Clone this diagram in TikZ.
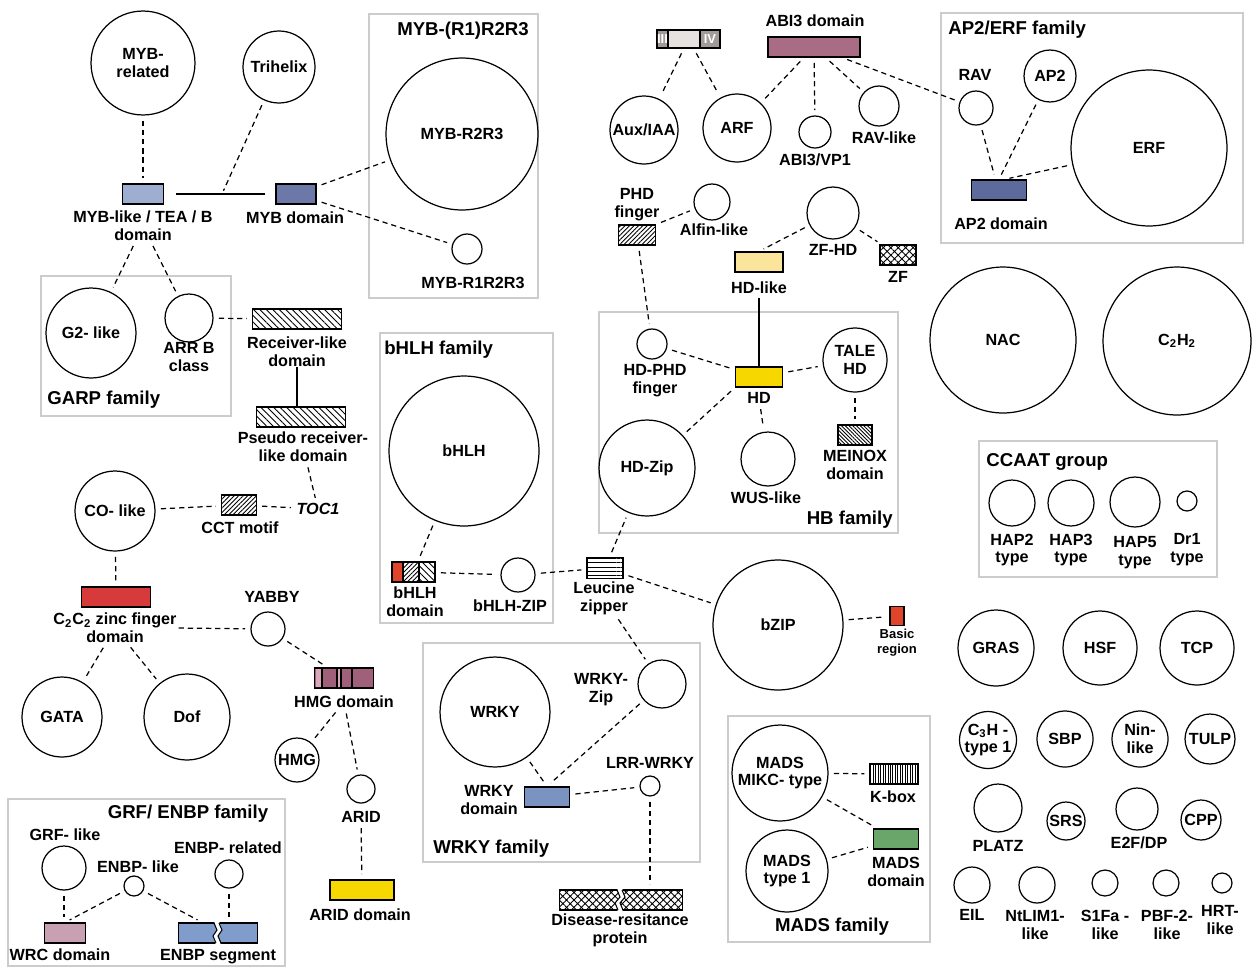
\documentclass[tikz,border=0pt]{standalone}
\usepackage{fontspec}
\setmainfont{Liberation Sans}
\usetikzlibrary{patterns.meta}
\newcommand\lblfont{\fontsize{9.2}{10.2}\selectfont\bfseries}
\newcommand\ttlfont{\fontsize{10.6}{12}\selectfont\bfseries}
\newcommand\smlfont{\fontsize{7.4}{8.4}\selectfont\bfseries}
\definecolor{framegray}{HTML}{CCCCCC}
\definecolor{mybl}{HTML}{9DAED0}
\definecolor{mybd}{HTML}{6B78A8}
\definecolor{ap2c}{HTML}{5D6A9C}
\definecolor{abic}{HTML}{A86C84}
\definecolor{hdlc}{HTML}{FBE49C}
\definecolor{hdc}{HTML}{F7D700}
\definecolor{zincred}{HTML}{D63A3A}
\definecolor{basicc}{HTML}{E0452C}
\definecolor{hmgc}{HTML}{A0607A}
\definecolor{hmgl}{HTML}{D9A8BA}
\definecolor{wrcc}{HTML}{C9A0B2}
\definecolor{enbpc}{HTML}{7F9CCB}
\definecolor{wrkyc}{HTML}{7B93C0}
\definecolor{madsc}{HTML}{6AA56A}
\definecolor{auxmid}{HTML}{E6E2E0}
\definecolor{auxend}{HTML}{A09A98}
\tikzset{
  fam/.style={circle,draw,line width=0.7pt,inner sep=0pt,minimum size=#1*0.04cm,font=\lblfont,align=center},
  dom/.style={draw,line width=0.7pt,inner sep=0pt,minimum height=0.4cm,minimum width=#1*0.02cm},
  lbl/.style={font=\lblfont,align=center,inner sep=0pt},
  ttl/.style={font=\ttlfont,inner sep=0pt},
  grp/.style={draw=framegray,line width=0.8pt},
  link/.style={dash pattern=on 3pt off 2.2pt,line width=0.7pt,shorten <=3pt,shorten >=3pt},
  bond/.style={line width=0.7pt},
  hatchnw/.style={pattern={Lines[angle=-45,distance=2.6pt,line width=0.5pt]}},
  hatchne/.style={pattern={Lines[angle=45,distance=1.8pt,line width=0.5pt]}},
  densenw/.style={pattern={Lines[angle=-45,distance=1.5pt,line width=0.5pt]}},
  netfill/.style={pattern={Hatch[angle=45,distance=3pt,line width=0.5pt]}},
  hlinefill/.style={pattern={Lines[angle=0,distance=2.3pt,line width=0.5pt]}},
  vlinefill/.style={pattern={Lines[angle=90,distance=1.4pt,line width=0.5pt]}},
}
\begin{document}
\begin{tikzpicture}[x=0.02cm,y=-0.02cm]
\useasboundingbox (0,0) rectangle (1256,967);

\draw[grp] (369,14) rectangle (538,298);
\draw[grp] (941,13) rectangle (1243,243);
\draw[grp] (41,276) rectangle (231,416);
\draw[grp] (380,333) rectangle (553,623);
\draw[grp] (599,312) rectangle (898,533);
\draw[grp] (979,441) rectangle (1217,577);
\draw[grp] (423,643) rectangle (700,862);
\draw[grp] (728,716) rectangle (930,942);
\draw[grp] (8,799) rectangle (285,966);

% MYB
\node[fam=52] (mybrel) at (143,63) {MYB-\\related};
\node[fam=36] (trihelix) at (279,67) {Trihelix};
\node[dom=41,fill=mybl] (myblike) at (143,194) {};
\node[lbl] (myblikeL) at (143,226) {MYB-like / TEA / B\\domain};
\node[dom=40,fill=mybd] (mybdom) at (296,194) {};
\node[lbl] (mybdomL) at (295,218) {MYB domain};
\node[ttl] (mybttl) at (463,31) {MYB-(R1)R2R3};
\node[fam=76] (r2r3) at (462,134) {MYB-R2R3};
\node[fam=15] (r1r2r3) at (467,249) {};
\node[lbl] (r1r2r3L) at (473,283) {MYB-R1R2R3};
\coordinate (trijoin) at (222,194);

\draw[bond] ([xshift=7pt]myblike.east) -- ([xshift=-6pt]mybdom.west);
\draw[link] (mybrel) -- (myblike);
\draw[link,shorten >=2pt] (trihelix) -- (trijoin);
\draw[link] (mybdom) -- (r2r3);
\draw[link] (mybdom) -- (r1r2r3);

% GARP and receiver
\node[fam=45] (g2like) at (91,333) {G2- like};
\node[fam=24] (arrb) at (189,318) {};
\node[lbl] (arrbL) at (189,357) {ARR B\\class};
\node[ttl,anchor=west] (garpttl) at (47,400) {GARP family};
\node[dom=89,hatchnw] (recv) at (297,319) {};
\node[lbl] (recvL) at (297,352) {Receiver-like\\domain};
\node[dom=89,hatchnw] (pseudo) at (301,417) {};
\node[lbl] (pseudoL) at (303,447) {Pseudo receiver-\\like domain};
\node[lbl,font=\lblfont\itshape] (toc1) at (318,509) {TOC1};
\node[dom=35,hatchne] (cct) at (239,505) {};
\node[lbl] (cctL) at (240,528) {CCT motif};
\node[fam=40] (colike) at (115,511) {CO- like};

\draw[link] (myblikeL) -- (g2like);
\draw[link] (myblikeL) -- (arrb);
\draw[link] (arrb) -- (recv);
\draw[bond] (recvL.south) -- (recvL.south |- pseudo.north);
\draw[link] (pseudoL) -- (toc1);
\draw[link] (cct) -- (toc1);
\draw[link] (colike) -- (cct);

% C2C2, YABBY, HMG
\node[dom=69,fill=zincred] (c2c2) at (116,597) {};
\node[lbl] (c2c2L) at (115,628) {C\textsubscript{2}C\textsubscript{2} zinc finger\\domain};
\node[fam=40] (gata) at (62,717) {GATA};
\node[fam=43] (dof) at (187,717) {Dof};
\node[fam=17] (yabby) at (268,629) {};
\node[lbl] (yabbyL) at (272,597) {YABBY};
\node[dom=59,fill=hmgc] (hmgdom) at (344,678) {};
\fill[hmgl] (316,669) rectangle (322,687) (337,669) rectangle (341,687);
\draw[line width=0.6pt] (322,668) -- (322,688) (337,668) -- (337,688) (341,668) -- (341,688) (352,668) -- (352,688);
\node[lbl] (hmgdomL) at (344,702) {HMG domain};
\node[fam=22] (hmg) at (297,760) {HMG};
\node[fam=14] (arid) at (361,789) {};
\node[lbl] (aridL) at (361,817) {ARID};
\node[dom=64,fill=hdc] (ariddom) at (362,890) {};
\node[lbl] (ariddomL) at (360,915) {ARID domain};

\draw[link] (colike) -- (c2c2);
\draw[link,shorten <=1pt] (c2c2L.east) -- (yabby);
\draw[link] (c2c2L) -- (gata);
\draw[link] (c2c2L) -- (dof);
\draw[link] (yabby) -- (hmgdom);
\draw[link] (hmgdomL) -- (hmg);
\draw[link] (hmgdomL) -- (arid);
\draw[link] (aridL) -- (ariddom);

% GRF / ENBP
\node[ttl] (grfttl) at (188,814) {GRF/ ENBP family};
\node[lbl] (grfL) at (65,835) {GRF- like};
\node[fam=22] (grf) at (64,868) {};
\node[lbl] (enbplL) at (138,867) {ENBP- like};
\node[fam=10] (enbpl) at (134,886) {};
\node[lbl] (enbprL) at (228,848) {ENBP- related};
\node[fam=14] (enbpr) at (229,874) {};
\node[dom=41,fill=wrcc] (wrc) at (65,933) {};
\node[lbl] (wrcL) at (60,955) {WRC domain};
\node[dom=79,fill=enbpc] (enbpseg) at (218,933) {};
\begin{scope}[shift={(enbpseg.center)}]
  \fill[white] (-4,-12) -- (-1,-3) -- (-5,3) -- (-2,12) -- (3,12) -- (0,3) -- (4,-3) -- (1,-12) -- cycle;
  \draw[line width=0.6pt] (-4,-10) -- (-1,-3) -- (-5,3) -- (-2,10);
  \draw[line width=0.6pt] (1,-10) -- (4,-3) -- (0,3) -- (3,10);
\end{scope}
\node[lbl] (enbpsegL) at (218,957) {ENBP segment};

\draw[link] (grf) -- (grf |- wrc.north);
\draw[link] (enbpl) -- (wrc.north);
\draw[link] (enbpl) -- ([xshift=-9pt]enbpseg.north);
\draw[link] (enbpr) -- (enbpr |- enbpseg.north);

% ARF / ABI3
\fill[auxmid] (657,30) rectangle (720,48);
\fill[auxend] (657,30) rectangle (668,48) (700,30) rectangle (720,48);
\node[dom=63,minimum height=0.36cm] (auxbox) at (688.5,39) {};
\draw[line width=0.6pt] (668,30) -- (668,48) (700,30) -- (700,48);
\node[font=\smlfont,text=white,inner sep=0pt] (auxiii) at (662.5,39) {III};
\node[font=\smlfont,text=white,inner sep=0pt] (auxiv) at (710,39) {IV};
\node[dom=92,fill=abic] (abi3) at (814,47) {};
\node[lbl] (abi3L) at (815,21) {ABI3 domain};
\node[fam=34] (auxiaa) at (644,130) {Aux/IAA};
\node[fam=34] (arf) at (737,128) {ARF};
\node[fam=16] (abivp) at (815,132) {};
\node[lbl] (abivpL) at (815,160) {ABI3/VP1};
\node[fam=20] (ravlike) at (879,106) {};
\node[lbl] (ravlikeL) at (884,138) {RAV-like};

% AP2/ERF
\node[ttl,anchor=west] (ap2ttl) at (948,30) {AP2/ERF family};
\node[lbl] (ravL) at (975,75) {RAV};
\node[fam=17] (rav) at (976,108) {};
\node[fam=26] (ap2) at (1050,76) {AP2};
\node[fam=78] (erf) at (1149,148) {ERF};
\node[dom=55,fill=ap2c] (ap2dom) at (999,190) {};
\node[lbl] (ap2domL) at (1001,224) {AP2 domain};

\draw[link] (auxbox) -- (auxiaa);
\draw[link] (auxbox) -- (arf);
\draw[link] (abi3) -- (arf);
\draw[link] (abi3) -- (abivp);
\draw[link] (abi3) -- (ravlike);
\draw[link] (abi3) -- (rav);
\draw[link] (rav) -- ([xshift=-2pt]ap2dom.north);
\draw[link] (ap2) -- (ap2dom.north);
\draw[link] (erf) -- ([xshift=3pt]ap2dom.north);

% HB
\node[lbl] (phdL) at (637,205) {PHD\\finger};
\node[dom=37,hatchne] (phd) at (637,235) {};
\node[fam=18] (alfin) at (712,202) {};
\node[lbl] (alfinL) at (714,230) {Alfin-like};
\node[fam=26] (zfhd) at (833,213) {};
\node[lbl] (zfhdL) at (833,250) {ZF-HD};
\node[dom=36,netfill] (zf) at (898,255) {};
\node[lbl] (zfL) at (898,277) {ZF};
\node[dom=48,fill=hdlc] (hdlike) at (759,262) {};
\node[lbl] (hdlikeL) at (759,288) {HD-like};
\node[fam=15] (hdphd) at (652,344) {};
\node[lbl] (hdphdL) at (655,381) {HD-PHD\\finger};
\node[dom=47,fill=hdc] (hd) at (759,377) {};
\node[lbl] (hdL) at (759,398) {HD};
\node[fam=32] (tale) at (855,360) {TALE\\HD};
\node[dom=34,densenw] (meinox) at (855,435) {};
\node[lbl] (meinoxL) at (855,465) {MEINOX\\domain};
\node[fam=48] (hdzip) at (647,468) {HD-Zip};
\node[fam=27] (wus) at (768,459) {};
\node[lbl] (wusL) at (766,498) {WUS-like};
\node[ttl,anchor=east] (hbttl) at (893,520) {HB family};

\draw[link] (phd.north east) -- (alfin);
\draw[link] (zfhd) -- (hdlike.north);
\draw[link] (zfhd) -- (zf);
\draw[bond,shorten <=2pt] (hdlikeL.south) -- (hd.north);
\draw[link] (phd) -- (hdphd);
\draw[link] (hdphd) -- (hd);
\draw[link] (hd) -- (tale);
\draw[link] (tale) -- (meinox);
\draw[link] (hd.south west) -- (hdzip);
\draw[link] (hdL) -- (wus);

% bHLH and bZIP
\node[ttl,anchor=west] (bhlhttl) at (384,350) {bHLH family};
\node[fam=75] (bhlh) at (464,451) {bHLH};
\fill[basicc] (392,562) rectangle (403,582);
\path[hatchne] (403,562) rectangle (419,582);
\path[hatchnw] (419,562) rectangle (435,582);
\node[dom=43] (bhlhdom) at (413.5,572) {};
\draw[line width=0.6pt] (403,562) -- (403,582) (419,562) -- (419,582);
\node[lbl] (bhlhdomL) at (415,602) {bHLH\\domain};
\node[fam=17] (bhlhzip) at (518,575) {};
\node[lbl] (bhlhzipL) at (510,606) {bHLH-ZIP};
\node[dom=36,minimum height=0.42cm,hlinefill] (leu) at (605,568) {};
\node[lbl] (leuL) at (604,598) {Leucine\\zipper};
\node[fam=65] (bzip) at (778,625) {bZIP};
\node[dom=14,minimum height=0.38cm,fill=basicc] (basic) at (897,616) {};
\node[lbl,font=\smlfont] (basicL) at (897,643) {Basic\\region};

\draw[link] (bhlh) -- (bhlhdom);
\draw[link] (bhlhdom) -- (bhlhzip);
\draw[link] (bhlhzip) -- (leu);
\draw[link] (leu) -- (bzip);
\draw[link] (leu) -- (hdzip);
\draw[link] (bzip) -- (basic);

% WRKY
\node[fam=55] (wrky) at (495,712) {WRKY};
\node[fam=24] (wrkyzip) at (662,684) {};
\node[lbl] (wrkyzipL) at (601,690) {WRKY-\\Zip};
\node[dom=45,fill=wrkyc] (wrkydom) at (547,797) {};
\node[lbl] (wrkydomL) at (489,800) {WRKY\\domain};
\node[fam=10] (lrr) at (650,786) {};
\node[lbl] (lrrL) at (650,763) {LRR-WRKY};
\node[ttl,anchor=west] (wrkyttl) at (433,849) {WRKY family};
\node[dom=123,netfill] (disease) at (621,900) {};
\begin{scope}[shift={(disease.center)}]
  \fill[white] (-4,-12) -- (-1,-3) -- (-6,3) -- (-3,12) -- (2,12) -- (-1,3) -- (4,-3) -- (1,-12) -- cycle;
  \draw[line width=0.6pt] (-4,-10) -- (-1,-3) -- (-6,3) -- (-3,10);
  \draw[line width=0.6pt] (1,-10) -- (4,-3) -- (-1,3) -- (2,10);
\end{scope}
\node[lbl] (diseaseL) at (620,930) {Disease-resitance\\protein};

\draw[link] (leuL) -- (wrkyzip);
\draw[link] (wrky) -- (wrkydom.north);
\draw[link] (wrkyzip) -- (wrkydom.north);
\draw[link] (wrkydom) -- (lrr);
\draw[link] (lrr) -- (lrr |- disease.north);

% MADS
\node[fam=48] (mikc) at (780,773) {MADS\\MIKC- type};
\node[fam=41] (type1) at (787,871) {MADS\\type 1};
\node[dom=48,vlinefill] (kbox) at (894,774) {};
\node[lbl] (kboxL) at (893,797) {K-box};
\node[dom=45,fill=madsc] (madsdom) at (896,839) {};
\node[lbl] (madsdomL) at (896,872) {MADS\\domain};
\node[ttl] (madsttl) at (832,927) {MADS family};

\draw[link] (mikc) -- (kbox);
\draw[link] (mikc) -- (madsdom);
\draw[link] (type1) -- (madsdom);

% unlinked families
\node[fam=73] (nac) at (1003,340) {NAC};
\node[fam=74] (c2h2) at (1177,341) {C\textsubscript{2}H\textsubscript{2}};
\node[ttl,anchor=west] (ccaatttl) at (986,462) {CCAAT group};
\node[fam=23] (hap2) at (1012,503) {};
\node[lbl] (hap2L) at (1012,550) {HAP2\\type};
\node[fam=23] (hap3) at (1071,503) {};
\node[lbl] (hap3L) at (1071,550) {HAP3\\type};
\node[fam=25] (hap5) at (1135,502) {};
\node[lbl] (hap5L) at (1135,553) {HAP5\\type};
\node[fam=10] (dr1) at (1187,501) {};
\node[lbl] (dr1L) at (1187,550) {Dr1\\type};
\node[fam=38] (gras) at (996,648) {GRAS};
\node[fam=37] (hsf) at (1100,648) {HSF};
\node[fam=37] (tcp) at (1197,648) {TCP};
\node[fam=28] (c3h) at (988,740) {C\textsubscript{3}H -\\type 1};
\node[fam=28] (sbp) at (1065,739) {SBP};
\node[fam=28] (nin) at (1140,739) {Nin-\\like};
\node[fam=25] (tulp) at (1210,739) {TULP};
\node[fam=24] (platz) at (998,808) {};
\node[lbl] (platzL) at (998,846) {PLATZ};
\node[fam=19] (srs) at (1066,821) {SRS};
\node[fam=21] (e2f) at (1137,809) {};
\node[lbl] (e2fL) at (1139,843) {E2F/DP};
\node[fam=20] (cpp) at (1201,820) {CPP};
\node[fam=18] (eil) at (972,885) {};
\node[lbl] (eilL) at (972,915) {EIL};
\node[fam=18] (ntlim) at (1037,885) {};
\node[lbl] (ntlimL) at (1035,925) {NtLIM1-\\like};
\node[fam=13] (s1fa) at (1105,883) {};
\node[lbl] (s1faL) at (1105,925) {S1Fa -\\like};
\node[fam=13] (pbf) at (1166,883) {};
\node[lbl] (pbfL) at (1167,925) {PBF-2-\\like};
\node[fam=10] (hrt) at (1222,883) {};
\node[lbl] (hrtL) at (1220,920) {HRT-\\like};
\end{tikzpicture}
\end{document}
